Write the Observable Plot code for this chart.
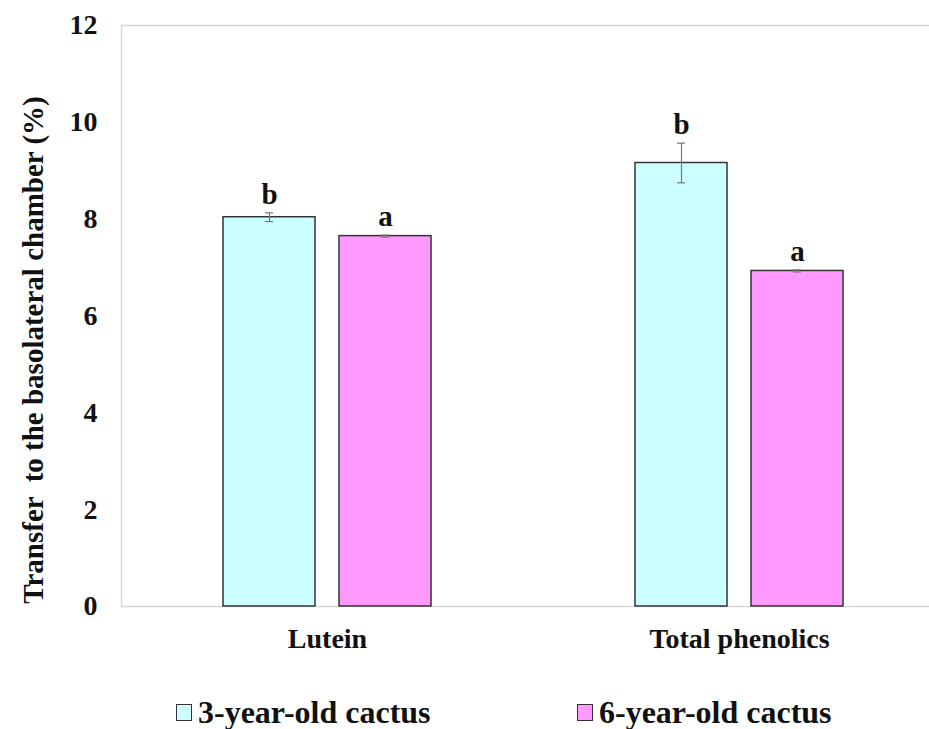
<!DOCTYPE html>
<html>
<head>
<meta charset="utf-8">
<script src="https://cdn.jsdelivr.net/npm/d3@7"></script>
<script src="https://cdn.jsdelivr.net/npm/@observablehq/plot@0.6"></script>
<style>
  html, body { margin: 0; background: #fff; overflow: hidden; }
  #wrap { position: relative; width: 929px; height: 729px; overflow: hidden; font-family: "Liberation Serif", "Times New Roman", serif; }
  #wrap svg { overflow: hidden; }
  .leg { position: absolute; top: 693px; font-size: 32px; font-weight: bold; color: #111; line-height: 38px; white-space: nowrap; }
  .sw { position: absolute; top: 704px; width: 14px; height: 15px; border: 1.5px solid #333; }
</style>
</head>
<body>
<div id="wrap"></div>
<script>
const categories = ["Lutein", "Total phenolics"];
const series = ["3-year-old cactus", "6-year-old cactus"];
const values3 = [8.04, 9.16];
const values6 = [7.65, 6.93];
const err3 = [0.09, 0.41];
const err6 = [0.02, 0.02];
const letters3 = ["b", "b"];
const letters6 = ["a", "a"];
const yTicks = [0, 2, 4, 6, 8, 10, 12];
const yLabel = "Transfer  to the basolateral chamber (%)";
const colors = ["#ccffff", "#ff99ff"];

const data = [];
categories.forEach((c, i) => {
  data.push({cat: c, s: series[0], v: values3[i], e: err3[i], t: letters3[i]});
  data.push({cat: c, s: series[1], v: values6[i], e: err6[i], t: letters6[i]});
});

const chart = Plot.plot({
  width: 929,
  height: 680,
  marginTop: 25,
  marginBottom: 74,
  marginLeft: 121,
  marginRight: 0,
  style: {fontFamily: "'Liberation Serif', 'Times New Roman', serif", background: "#fff"},
  fx: {domain: categories, range: [121, 945], padding: 0, label: null},
  x: {domain: series, paddingInner: 0.207, paddingOuter: 0.879, axis: null},
  y: {domain: [0, 12], ticks: yTicks, label: null},
  color: {domain: series, range: colors},
  marks: [
    Plot.ruleY([0, 12], {stroke: "#d9d9d9", strokeWidth: 1.5}),
    Plot.frame({anchor: "left", facetAnchor: "left", stroke: "#d9d9d9", strokeWidth: 1.5}),
    Plot.barY(data, {fx: "cat", x: "s", y: "v", fill: "s", stroke: "#333", strokeWidth: 1.5}),
    Plot.ruleX(data, {fx: "cat", x: "s", y1: d => d.v - d.e, y2: d => d.v + d.e, stroke: "#777", strokeWidth: 1.2}),
    Plot.tickY(data, {fx: "cat", x: "s", y: d => d.v + d.e, insetLeft: 42, insetRight: 42, stroke: "#777", strokeWidth: 1.2}),
    Plot.tickY(data, {fx: "cat", x: "s", y: d => d.v - d.e, insetLeft: 42, insetRight: 42, stroke: "#777", strokeWidth: 1.2}),
    Plot.text(data, {fx: "cat", x: "s", y: d => d.v + d.e, text: "t", dy: -9, lineAnchor: "bottom", fontSize: 29, fontWeight: "bold", fill: "#111"}),
    Plot.axisY({ticks: yTicks, tickSize: 0, tickPadding: 24, fontSize: 28, fontWeight: "bold", fill: "#111", label: null}),
    Plot.text([yLabel], {text: d => d, frameAnchor: "left", facetAnchor: "left", rotate: -90, dx: -88, dy: 34,
      textAnchor: "middle", fontSize: 29, fontWeight: "bold", fill: "#111"}),
    Plot.axisFx({anchor: "bottom", tickSize: 0, tickPadding: 22, fontSize: 28, fontWeight: "bold", fill: "#111", label: null})
  ]
});
const wrap = document.getElementById("wrap");
wrap.appendChild(chart);

const legX = [[176, 198], [577, 599]];
series.forEach((s, i) => {
  const sw = document.createElement("div");
  sw.className = "sw";
  sw.style.left = legX[i][0] + "px";
  sw.style.background = colors[i];
  wrap.appendChild(sw);
  const t = document.createElement("div");
  t.className = "leg";
  t.style.left = legX[i][1] + "px";
  t.textContent = s;
  wrap.appendChild(t);
});
</script>
</body>
</html>
